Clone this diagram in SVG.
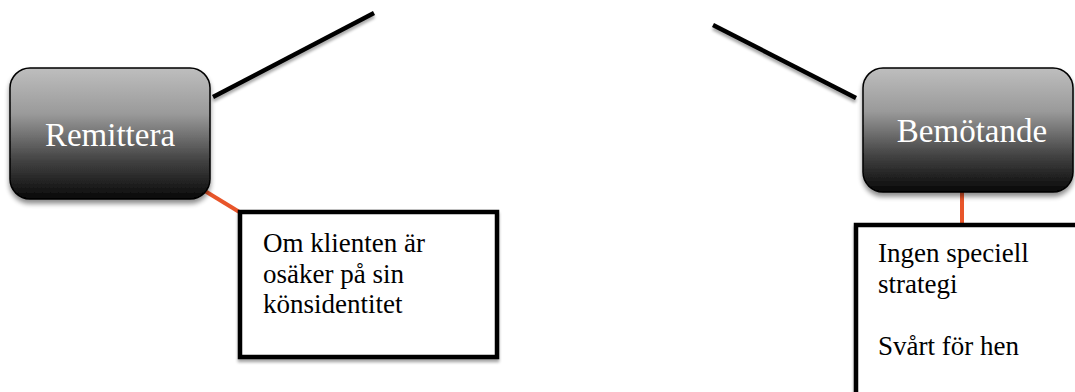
<svg xmlns="http://www.w3.org/2000/svg" width="1075" height="392" viewBox="0 0 1075 392">
  <defs>
    <linearGradient id="nodeGrad" x1="0" y1="0" x2="0" y2="1">
      <stop offset="0" stop-color="#bebebe"/>
      <stop offset="0.35" stop-color="#9a9a9a"/>
      <stop offset="0.7" stop-color="#444"/>
      <stop offset="1" stop-color="#080808"/>
    </linearGradient>
    <filter id="shadow" x="-20%" y="-20%" width="140%" height="150%">
      <feGaussianBlur in="SourceAlpha" stdDeviation="2.5"/>
      <feOffset dx="0" dy="4" result="b"/>
      <feComponentTransfer><feFuncA type="linear" slope="0.45"/></feComponentTransfer>
      <feMerge><feMergeNode/><feMergeNode in="SourceGraphic"/></feMerge>
    </filter>
    <filter id="lshadow" x="-10%" y="-30%" width="120%" height="160%">
      <feGaussianBlur in="SourceAlpha" stdDeviation="1.5"/>
      <feOffset dx="0" dy="3" result="b"/>
      <feComponentTransfer><feFuncA type="linear" slope="0.35"/></feComponentTransfer>
      <feMerge><feMergeNode/><feMergeNode in="SourceGraphic"/></feMerge>
    </filter>
  </defs>
  <style>
    .node { fill: url(#nodeGrad); stroke: #000; stroke-width: 1.5; filter: url(#shadow); }
    .ntext { font-family: "Liberation Serif", "DejaVu Serif", serif; font-size: 33px; fill: #ffffff; }
    .box { fill: #ffffff; stroke: #000; stroke-width: 4.5; filter: url(#lshadow); }
    .btext { font-family: "Liberation Serif", "DejaVu Serif", serif; font-size: 27px; fill: #000; }
    .bline { stroke: #000; stroke-width: 4.5; fill: none; filter: url(#lshadow); }
    .oline { stroke: #e8552a; stroke-width: 4; fill: none; }
  </style>
  <g id="connectors">
    <line class="bline" x1="213" y1="97" x2="374" y2="13"/>
    <line class="bline" x1="713" y1="25" x2="856" y2="98"/>
    <line class="oline" x1="200" y1="188" x2="241" y2="213"/>
    <line class="oline" x1="962" y1="188" x2="962" y2="224"/>
  </g>
  <g id="node-remittera">
    <rect class="node" x="10" y="68" width="200" height="131" rx="20" ry="20"/>
    <text class="ntext" x="110" y="146" text-anchor="middle">Remittera</text>
  </g>
  <g id="node-bemotande">
    <rect class="node" x="863" y="68" width="210" height="124" rx="20" ry="20"/>
    <text class="ntext" x="972" y="142" text-anchor="middle">Bemötande</text>
  </g>
  <g id="box-left">
    <rect class="box" x="240" y="212" width="257" height="145"/>
    <text class="btext" x="263" y="252">Om klienten är</text>
    <text class="btext" x="263" y="283">osäker på sin</text>
    <text class="btext" x="263" y="313">könsidentitet</text>
  </g>
  <g id="box-right">
    <rect class="box" x="856" y="225" width="240" height="190"/>
    <text class="btext" x="878" y="262">Ingen speciell</text>
    <text class="btext" x="878" y="293">strategi</text>
    <text class="btext" x="878" y="355">Svårt för hen</text>
  </g>
</svg>
